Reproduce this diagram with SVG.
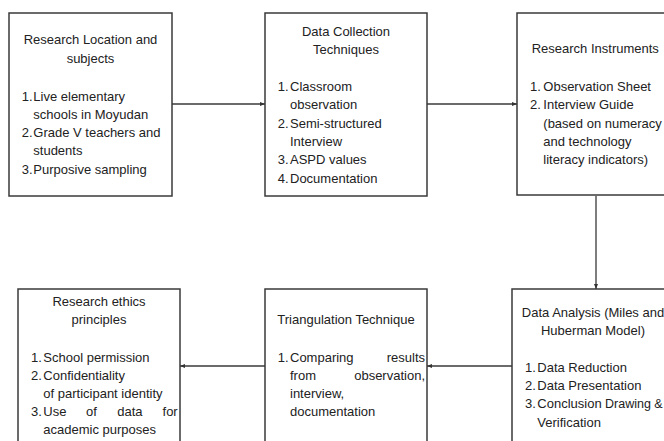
<svg xmlns="http://www.w3.org/2000/svg" width="664" height="441" viewBox="0 0 664 441">
<defs>
<marker id="arr" viewBox="0 0 10 10" refX="10" refY="5" markerWidth="5" markerHeight="5" orient="auto" markerUnits="userSpaceOnUse">
<path d="M0,1 L10,5 L0,9 z" fill="#333"/>
</marker>
<style>
.box{fill:#fff;stroke:#3a3a3a;stroke-width:1.5}
.t{font-family:"Liberation Sans",Arial,sans-serif;font-size:13px;fill:#222}
.c{text-anchor:middle}
.e{text-anchor:end}
.ln{stroke:#3a3a3a;stroke-width:1.3;fill:none}
</style>
</defs>
<rect width="664" height="441" fill="#fff"/>
<g id="connectors">
<line class="ln" x1="172" y1="104" x2="265" y2="104" marker-end="url(#arr)"/>
<line class="ln" x1="427" y1="104" x2="517" y2="104" marker-end="url(#arr)"/>
<line class="ln" x1="596" y1="196" x2="596" y2="289" marker-end="url(#arr)"/>
<line class="ln" x1="512" y1="366" x2="427" y2="366" marker-end="url(#arr)"/>
<line class="ln" x1="265" y1="366" x2="180" y2="366" marker-end="url(#arr)"/>
</g>
<g id="node-location">
<rect class="box" x="9" y="13" width="163" height="183"/>
<text class="t c" x="90.5" y="44">Research Location and</text>
<text class="t c" x="90.5" y="62.5">subjects</text>
<text class="t" x="21.7" y="100.5">1.</text>
<text class="t" x="33.3" y="100.5">Live elementary</text>
<text class="t" x="33.3" y="118.8">schools in Moyudan</text>
<text class="t" x="21.7" y="137">2.</text>
<text class="t" x="33.3" y="137">Grade V teachers and</text>
<text class="t" x="33.3" y="155.3">students</text>
<text class="t" x="21.7" y="173.6">3.</text>
<text class="t" x="33.3" y="173.6">Purposive sampling</text>
</g>
<g id="node-collection">
<rect class="box" x="265" y="13" width="162" height="183"/>
<text class="t c" x="346" y="35.5">Data Collection</text>
<text class="t c" x="346" y="53.5">Techniques</text>
<text class="t" x="277.7" y="90.7">1.</text>
<text class="t" x="290" y="90.7">Classroom</text>
<text class="t" x="290" y="109">observation</text>
<text class="t" x="277.7" y="127.5">2.</text>
<text class="t" x="290" y="127.5">Semi-structured</text>
<text class="t" x="290" y="145.9">Interview</text>
<text class="t" x="277.7" y="164.3">3.</text>
<text class="t" x="290" y="164.3">ASPD values</text>
<text class="t" x="277.7" y="182.7">4.</text>
<text class="t" x="290" y="182.7">Documentation</text>
</g>
<g id="node-instruments">
<rect class="box" x="517" y="13" width="158" height="182"/>
<text class="t" x="531.7" y="53.3">Research Instruments</text>
<text class="t" x="530" y="90.7">1.</text>
<text class="t" x="543.3" y="90.7">Observation Sheet</text>
<text class="t" x="530" y="109">2.</text>
<text class="t" x="543.3" y="109">Interview Guide</text>
<text class="t" x="543.3" y="127.5">(based on numeracy</text>
<text class="t" x="543.3" y="145.9">and technology</text>
<text class="t" x="543.3" y="164.3">literacy indicators)</text>
</g>
<g id="node-analysis">
<rect class="box" x="512" y="289" width="162" height="160"/>
<text class="t c" x="593" y="316.7">Data Analysis (Miles and</text>
<text class="t c" x="593" y="335">Huberman Model)</text>
<text class="t" x="525" y="371.7">1.</text>
<text class="t" x="537.3" y="371.7">Data Reduction</text>
<text class="t" x="525" y="390">2.</text>
<text class="t" x="537.3" y="390">Data Presentation</text>
<text class="t" x="525" y="408.3">3.</text>
<text class="t" x="537.3" y="408.3">Conclusion</text>
<text class="t" x="605" y="408.3" style="font-size:12.5px">Drawing &amp;</text>
<text class="t" x="537.3" y="426.7">Verification</text>
</g>
<g id="node-triangulation">
<rect class="box" x="265" y="289" width="162" height="160"/>
<text class="t c" x="346" y="324.3">Triangulation Technique</text>
<text class="t" x="277.7" y="361.7">1.</text>
<text class="t" x="290" y="361.7">Comparing</text>
<text class="t e" x="425" y="361.7">results</text>
<text class="t" x="290" y="380">from</text>
<text class="t e" x="425" y="380">observation,</text>
<text class="t" x="290" y="398">interview,</text>
<text class="t" x="290" y="416">documentation</text>
</g>
<g id="node-ethics">
<rect class="box" x="18" y="289" width="162" height="160"/>
<text class="t c" x="99" y="306">Research ethics</text>
<text class="t c" x="99" y="324.3">principles</text>
<text class="t" x="31" y="361.7">1.</text>
<text class="t" x="43.3" y="361.7">School permission</text>
<text class="t" x="31" y="380">2.</text>
<text class="t" x="43.3" y="380">Confidentiality</text>
<text class="t" x="43.3" y="398">of participant identity</text>
<text class="t" x="31" y="416">3.</text>
<text class="t" x="43.3" y="416">Use</text>
<text class="t" x="86" y="416">of</text>
<text class="t" x="117.3" y="416">data</text>
<text class="t e" x="177.7" y="416">for</text>
<text class="t" x="43.3" y="434.3">academic purposes</text>
</g>
</svg>
